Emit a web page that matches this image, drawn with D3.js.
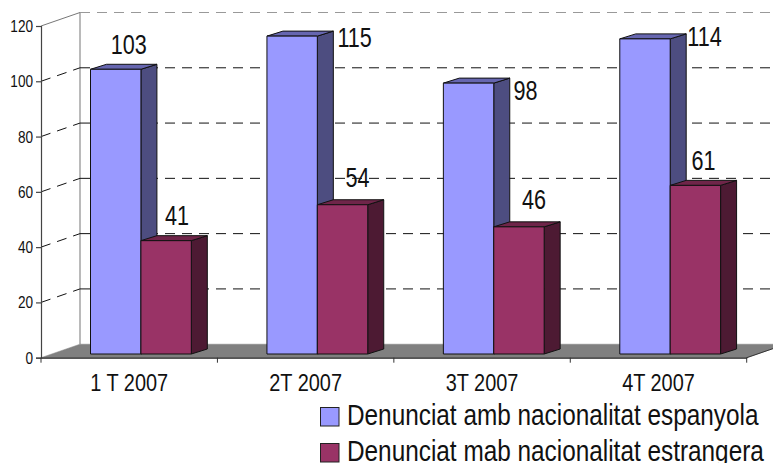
<!DOCTYPE html>
<html>
<head>
<meta charset="utf-8">
<script src="https://cdn.jsdelivr.net/npm/d3@7"></script>
<style>
    html, body { margin: 0; padding: 0; background: #fff; }
    svg { display: block; }
    text { font-family: "Liberation Sans", sans-serif; fill: #111; }
</style>
</head>
<body>
<svg id="chart"></svg>
<script>
const quarters = ["1 T 2007", "2T 2007", "3T 2007", "4T 2007"];
const espanyola = [103, 115, 98, 114];
const estrangera = [41, 54, 46, 61];
const seriesNames = ["Denunciat amb nacionalitat espanyola", "Denunciat mab nacionalitat estrangera"];
const yTicks = [0, 20, 40, 60, 80, 100, 120];

// hand placed labels in the original, offset from the top of the bar's front face
const labelNudge = [
    [[13, -15], [62.5, 11], [57, 17], [59.5, 7]],
    [[11, -16], [15, -18], [15, -18], [8, -15]]
];

const width = 773, height = 463;
const svg = d3.select("#chart").attr("width", width).attr("height", height);

// the source font is a narrow one, so text gets squeezed horizontally
const narrow = 0.8;
const narrowLegend = 0.84;
const narrowCat = 0.83;

// 3D box: front plane of the axes plus a shift to the back wall
const depthX = 39, depthY = -13.5;
const barDepthX = 16, barDepthY = -5;
const barInset = 3.7;

const x = d3.scaleBand().domain(quarters).range([41, 746.7]);
const y = d3.scaleLinear().domain([0, 120]).range([357.7, 26]);
const barW = 50.4;
const barX0 = q => x(q) + x.bandwidth() / 2 + 11.7 - barW;

const colors = [
    { front: "#9999ff", side: "#4d4d80", top: "#6666b0" },
    { front: "#993366", side: "#4d1a33", top: "#6f2549" }
];

const clip = svg.append("defs").append("clipPath").attr("id", "page");
clip.append("rect").attr("width", width).attr("height", height);
const plot = svg.append("g").attr("clip-path", "url(#page)");

// Back wall edges
plot.append("line")
    .attr("x1", x.range()[0] + depthX).attr("x2", x.range()[0] + depthX)
    .attr("y1", y(120) + depthY).attr("y2", y(0) + depthY)
    .attr("stroke", "#8c8c8c").attr("stroke-width", 1.2);

// Gridlines on the back wall and the left side wall
yTicks.filter(d => d > 0).forEach(d => {
    const top = d === 120;
    plot.append("line")
        .attr("x1", x.range()[0] + depthX).attr("x2", width + 10)
        .attr("y1", y(d) + depthY).attr("y2", y(d) + depthY)
        .attr("stroke", top ? "#999" : "#111")
        .attr("stroke-dasharray", "10,7");
    plot.append("line")
        .attr("x1", x.range()[0]).attr("x2", x.range()[0] + depthX)
        .attr("y1", y(d)).attr("y2", y(d) + depthY)
        .attr("stroke", top ? "#777" : "#111")
        .attr("stroke-dasharray", top ? null : "10,7");
});

// Floor
const x0 = x.range()[0], x1 = x.range()[1];
plot.append("path")
    .attr("d", d3.line()([[x0, y(0)], [x0 + depthX, y(0) + depthY], [x1 + depthX, y(0) + depthY], [x1, y(0)]]) + "Z")
    .attr("fill", "#808080").attr("stroke", "#808080").attr("stroke-width", 0.5);

// Bars
function drawBar(left, value, c) {
    const base = y(0) - barInset;
    const top = base - (y(0) - y(value));
    const right = left + barW;
    const g = plot.append("g").attr("stroke", "#111").attr("stroke-width", 1).attr("stroke-linejoin", "round");
    g.append("path")
        .attr("d", d3.line()([[right, top], [right + barDepthX, top + barDepthY], [right + barDepthX, base + barDepthY], [right, base]]) + "Z")
        .attr("fill", c.side);
    g.append("path")
        .attr("d", d3.line()([[left, top], [left + barDepthX, top + barDepthY], [right + barDepthX, top + barDepthY], [right, top]]) + "Z")
        .attr("fill", c.top);
    g.append("rect")
        .attr("x", left).attr("y", top).attr("width", barW).attr("height", base - top)
        .attr("fill", c.front);
}

quarters.forEach((q, i) => {
    drawBar(barX0(q), espanyola[i], colors[0]);
    drawBar(barX0(q) + barW, estrangera[i], colors[1]);
});

// Value labels
[espanyola, estrangera].forEach((vals, s) => {
    vals.forEach((v, i) => {
        const q = quarters[i];
        const barLeft = barX0(q) + s * barW;
        const lx = barLeft + barW / 2 + labelNudge[s][i][0];
        const ly = y(0) - barInset - (y(0) - y(v)) + labelNudge[s][i][1];
        svg.append("text")
            .attr("transform", `translate(${lx},${ly}) scale(${narrow},1)`)
            .attr("text-anchor", "middle")
            .attr("font-size", 27)
            .text(v);
    });
});

// Axes on the front plane
const yAxis = d3.axisLeft(y).tickValues(yTicks).tickSize(5).tickPadding(2);
const gy = svg.append("g").attr("transform", `translate(${x0},0)`).call(yAxis);
gy.selectAll("text")
    .attr("x", 0)
    .attr("transform", `translate(-8,0) scale(${narrow},1)`)
    .attr("font-size", 17).attr("font-family", null);
gy.selectAll("line, path").attr("stroke", "#444").attr("stroke-width", 1.2);

const xAxis = d3.axisBottom(x).tickSize(0).tickPadding(16);
const gx = svg.append("g").attr("transform", `translate(0,${y(0)})`).call(xAxis);
gx.selectAll("text")
    .attr("transform", `scale(${narrowCat},1)`)
    .attr("font-size", 24).attr("font-family", null);
gx.select(".domain").attr("stroke", "#222").attr("stroke-width", 1.2);
gx.selectAll(".tick line").remove();
// tick marks fall between the categories
gx.selectAll(".sep")
    .data([...quarters.map(q => x(q)), x1])
    .enter().append("line")
    .attr("x1", d => d).attr("x2", d => d).attr("y1", 0).attr("y2", 5)
    .attr("stroke", "#333");

// Right edge of the floor, front to back
plot.append("line")
    .attr("x1", x1).attr("y1", y(0)).attr("x2", x1 + depthX).attr("y2", y(0) + depthY)
    .attr("stroke", "#333");

// Legend
const legend = svg.append("g");
seriesNames.forEach((name, i) => {
    const row = legend.append("g").attr("transform", `translate(320,${407 + i * 36})`);
    row.append("rect").attr("x", 0.5).attr("y", 0.5).attr("width", 18.5).attr("height", 18.5)
        .attr("fill", colors[i].front).attr("stroke", "#222");
    row.append("text")
        .attr("transform", `translate(27,18) scale(${narrowLegend},1)`)
        .attr("font-size", 29).text(name);
});
</script>
</body>
</html>
